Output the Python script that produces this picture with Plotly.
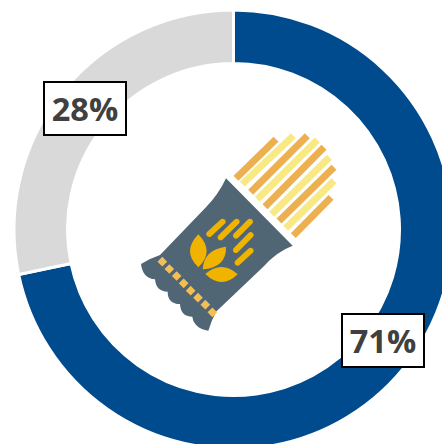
import math
import plotly.graph_objects as go

labels = ["Yes", "No"]
values = [71, 28]
value_labels = ["71%", "28%"]
colors = ["#004B8D", "#D9D9D9"]

W, H = 470, 470
CX, CY, R = 233.5, 229.5, 219.5
INNER = 166


def X(zx):
    return 130 + zx / 3


def Y(zy):
    return 120 + zy / 3


def px(zx):
    return X(zx) / W


def py(zy):
    return 1 - Y(zy) / H


def path(parts):
    out = []
    for p in parts:
        cmd = p[0]
        nums = p[1:]
        pts = " ".join(
            f"{px(nums[i]):.5f},{py(nums[i + 1]):.5f}" for i in range(0, len(nums), 2)
        )
        out.append(f"{cmd} {pts}")
    return " ".join(out) + " Z"


def stadium(a, b, w):
    dx, dy = b[0] - a[0], b[1] - a[1]
    n = math.hypot(dx, dy)
    ux, uy = dx / n, dy / n
    nx, ny = -uy * w / 2, ux * w / 2
    cx, cy = ux * w * 0.66, uy * w * 0.66
    return [
        ("M", a[0] + nx, a[1] + ny), ("L", b[0] + nx, b[1] + ny),
        ("C", b[0] + nx + cx, b[1] + ny + cy, b[0] - nx + cx, b[1] - ny + cy, b[0] - nx, b[1] - ny),
        ("L", a[0] - nx, a[1] - ny),
        ("C", a[0] - nx - cx, a[1] - ny - cy, a[0] + nx - cx, a[1] + ny - cy, a[0] + nx, a[1] + ny),
    ]


shapes = []

stripes = [
    ((318, 175), (438, 58), "#EDB050"),
    ((337, 192), (490, 47), "#F8E985"),
    ((362, 217), (532, 47), "#EDB050"),
    ((382, 238), (562, 60), "#F8E985"),
    ((405, 260), (582, 82), "#EDB050"),
    ((425, 283), (598, 112), "#F8E985"),
    ((447, 303), (612, 142), "#EDB050"),
    ((467, 325), (612, 182), "#F8E985"),
    ((490, 347), (603, 232), "#EDB050"),
]
for a, b, c in stripes:
    shapes.append(dict(type="line", xref="paper", yref="paper",
                       x0=px(a[0]), y0=py(a[1]), x1=px(b[0]), y1=py(b[1]),
                       line=dict(color=c, width=7)))

bag = [
    ("M", 288, 175), ("L", 488, 377), ("Q", 440, 395, 400, 440),
    ("L", 258, 575), ("Q", 245, 600, 235, 632), ("Q", 192, 625, 187, 590),
    ("Q", 152, 590, 150, 552), ("Q", 113, 552, 113, 515), ("Q", 78, 515, 75, 478),
    ("Q", 38, 475, 33, 432), ("Q", 60, 415, 90, 405), ("L", 225, 265),
    ("Q", 265, 225, 288, 175),
]
shapes.append(dict(type="path", xref="paper", yref="paper", path=path(bag),
                   fillcolor="#516675", line=dict(width=0)))

for cx, cy in [(97, 425), (118, 447), (140, 468), (161, 490),
               (182, 512), (204, 533), (226, 554), (247, 577)]:
    d = 14.5
    shapes.append(dict(type="path", xref="paper", yref="paper",
                       path=path([("M", cx, cy - d), ("L", cx + d, cy), ("L", cx, cy + d), ("L", cx - d, cy)]),
                       fillcolor="#F3BE55", line=dict(width=0)))

for a, b in [((238, 342), (278, 305)), ((272, 352), (320, 305)), ((318, 347), (360, 305)),
             ((318, 390), (362, 345)), ((323, 428), (362, 392))]:
    shapes.append(dict(type="path", xref="paper", yref="paper", path=path(stadium(a, b, 18)),
                       fillcolor="#F0B400", line=dict(width=0)))
leaves = [
    [("M", 205, 343), ("Q", 255, 395, 205, 442), ("Q", 155, 395, 205, 343)],
    [("M", 288, 380), ("Q", 290, 442, 218, 448), ("Q", 222, 388, 288, 380)],
    [("M", 323, 463), ("Q", 275, 510, 226, 462), ("Q", 275, 420, 323, 463)],
]
for leaf in leaves:
    shapes.append(dict(type="path", xref="paper", yref="paper", path=path(leaf),
                       fillcolor="#F0B400", line=dict(width=0)))

fig = go.Figure(go.Pie(
    labels=labels, values=values, hole=INNER / R, sort=False, direction="clockwise",
    rotation=0, textinfo="none", hoverinfo="skip", showlegend=False,
    marker=dict(colors=colors, line=dict(color="white", width=3)),
    domain=dict(x=[(CX - R) / W, (CX + R) / W], y=[1 - (CY + R) / H, 1 - (CY - R) / H]),
))

box_positions = [(383, 340), (84.5, 108)]
annotations = [
    dict(text=f"<b>{t}</b>", xref="paper", yref="paper", x=x / W, y=1 - y / H,
         xanchor="center", yanchor="middle", showarrow=False, width=80, height=51,
         bgcolor="white", bordercolor="black", borderwidth=2, borderpad=0,
         font=dict(family="Open Sans", size=32.5, color="#404040"))
    for t, (x, y) in zip(value_labels, box_positions)
]

fig.update_layout(width=W, height=H, margin=dict(l=0, r=0, t=0, b=0),
                  paper_bgcolor="white", plot_bgcolor="white",
                  shapes=shapes, annotations=annotations)

fig.write_html("out.html", config=dict(displayModeBar=False),
               post_script="document.body.style.margin='0';document.body.style.overflow='hidden';document.documentElement.style.overflow='hidden';")
